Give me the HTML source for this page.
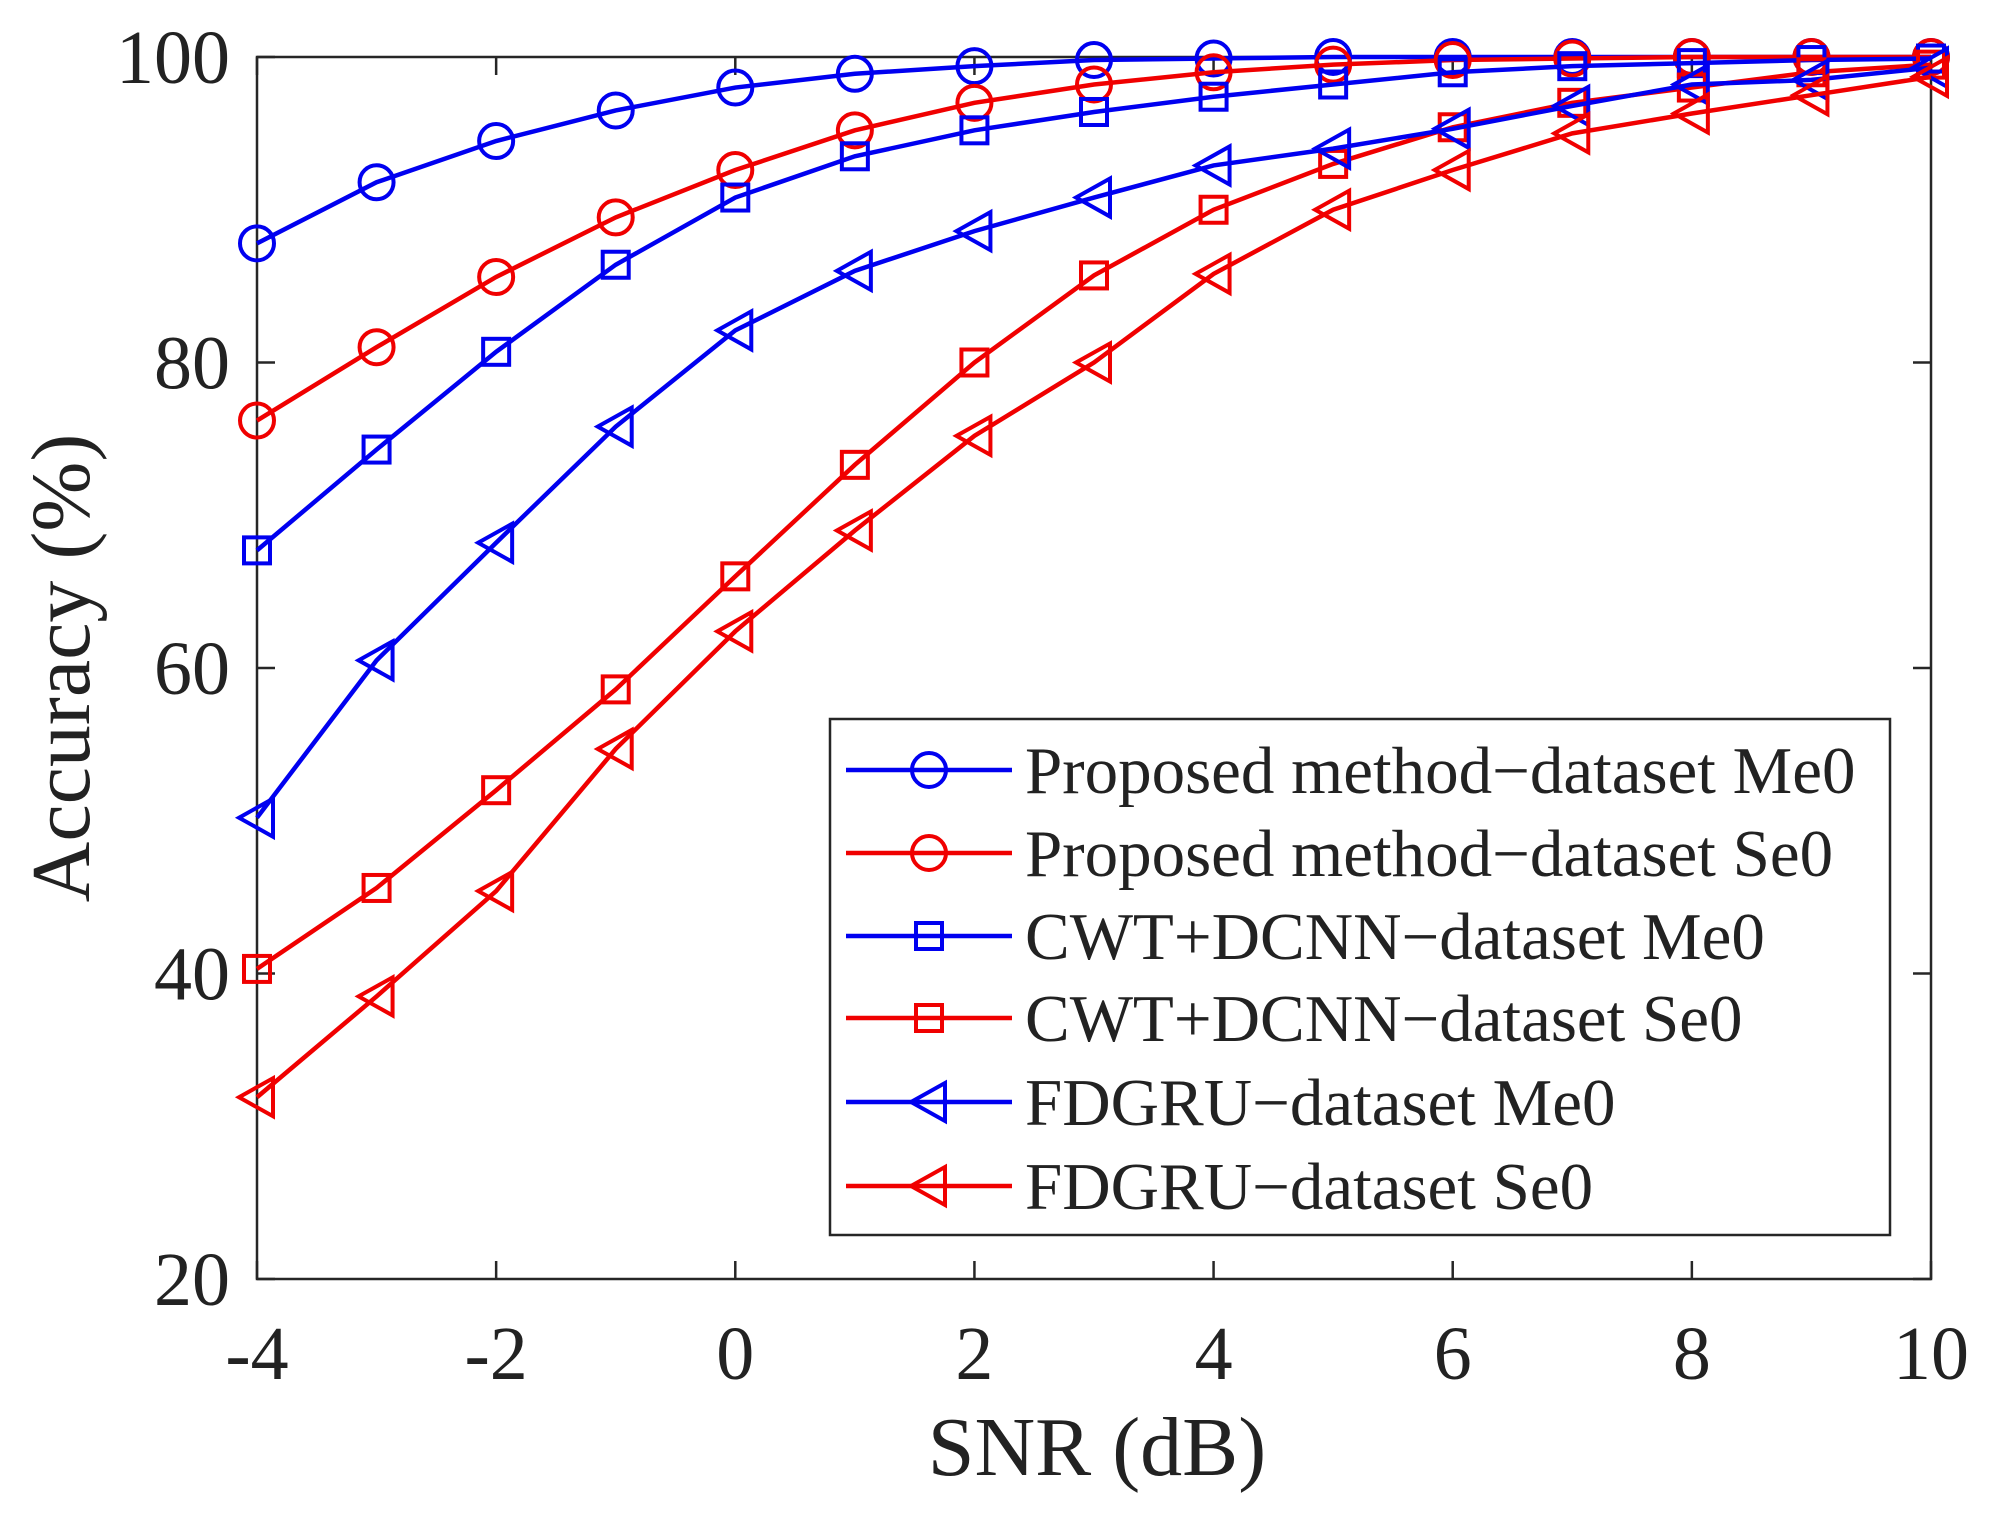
<!DOCTYPE html>
<html><head><meta charset="utf-8"><style>
html,body{margin:0;padding:0;background:#fff}
svg text{font-family:"Liberation Serif",serif;fill:#222}
</style></head><body>
<svg id="chart" width="1994" height="1518" viewBox="0 0 1994 1518" xmlns="http://www.w3.org/2000/svg">
<rect x="0" y="0" width="1994" height="1518" fill="#fff"/>
<g id="grid"></g>
<g id="series"></g>
<g id="legend"></g>
</svg>
<script>
const snr = [-4,-3,-2,-1,0,1,2,3,4,5,6,7,8,9,10];
const propMe0 = [87.8,91.8,94.5,96.5,98,98.9,99.4,99.8,99.9,100,100,100,100,100,100];
const propSe0 = [76.2,81,85.6,89.5,92.6,95.2,97,98.2,99,99.5,99.8,99.9,100,100,100];
const cwtMe0 = [67.7,74.3,80.7,86.4,90.8,93.5,95.2,96.4,97.4,98.2,99,99.4,99.6,99.8,99.9];
const cwtSe0 = [40.3,45.6,52,58.6,66,73.3,80,85.7,90,93,95.4,97,98,99,99.5];
const fdMe0 = [50.2,60.5,68.2,75.8,82.1,86,88.6,90.8,92.9,94,95.3,96.8,98.2,98.5,99.3];
const fdSe0 = [31.9,38.5,45.4,54.7,62.4,69,75.2,80,85.8,90,92.6,95,96.3,97.5,98.7];
const xTicks = [-4,-2,0,2,4,6,8,10];
const yTicks = [20,40,60,80,100];
const seriesNames = ["Proposed method\u2212dataset Me0","Proposed method\u2212dataset Se0","CWT+DCNN\u2212dataset Me0","CWT+DCNN\u2212dataset Se0","FDGRU\u2212dataset Me0","FDGRU\u2212dataset Se0"];

const L=257,R=1931,T=57,B=1279;
const sx=v=>L+(v-(-4))/(14)*(R-L);
const sy=v=>B-(v-20)/80*(B-T);
const NS="http://www.w3.org/2000/svg";
function mk(tag,attrs,parent){const e=document.createElementNS(NS,tag);for(const k in attrs)e.setAttribute(k,attrs[k]);parent.appendChild(e);return e;}
const grid=document.getElementById('grid'),sg=document.getElementById('series'),lg=document.getElementById('legend');

const box=mk('rect',{x:L,y:T,width:R-L,height:B-T,fill:'none',stroke:'#262626','stroke-width':2.5},grid);


xTicks.forEach(v=>{
  const x=sx(v);
  mk('line',{x1:x,x2:x,y1:B,y2:B-18,stroke:'#262626','stroke-width':2.5},grid);
  mk('line',{x1:x,x2:x,y1:T,y2:T+18,stroke:'#262626','stroke-width':2.5},grid);
  const t=mk('text',{x:x,y:1379,'text-anchor':'middle','font-size':76},grid);
  t.textContent=v;
  
  
});
yTicks.forEach(v=>{
  const y=sy(v);
  mk('line',{x1:L,x2:L+18,y1:y,y2:y,stroke:'#262626','stroke-width':2.5},grid);
  mk('line',{x1:R,x2:R-18,y1:y,y2:y,stroke:'#262626','stroke-width':2.5},grid);
  const t=mk('text',{x:230,y:y+26,'text-anchor':'end','font-size':76},grid);
  t.textContent=v;
  
  
});
const xl=mk('text',{x:1097,y:1475,'text-anchor':'middle','font-size':84},grid);
xl.textContent='SNR (dB)';


const yl=mk('text',{x:0,y:0,'text-anchor':'middle','font-size':84,transform:'translate(89,668) rotate(-90)'},grid);
yl.textContent='Accuracy (%)';



function marker(g,type,x,y,col){
  const a={fill:'none',stroke:col,'stroke-width':4};
  if(type==='o') mk('circle',Object.assign({cx:x,cy:y,r:17},a),g);
  else if(type==='s') mk('rect',Object.assign({x:x-13,y:y-13,width:26,height:26},a),g);
  else mk('polygon',Object.assign({points:`${x-18},${y} ${x+16},${y-19} ${x+16},${y+19}`},a),g);
}
const BLUE='#0000f0',RED='#f00000';
const all=[[propMe0,BLUE,'o'],[propSe0,RED,'o'],[cwtMe0,BLUE,'s'],[cwtSe0,RED,'s'],[fdMe0,BLUE,'t'],[fdSe0,RED,'t']];
const keys=['proposed-me0','proposed-se0','cwt-dcnn-me0','cwt-dcnn-se0','fdgru-me0','fdgru-se0'];
all.forEach((s,i)=>{
  const g=mk('g',{},sg);
  
  
  const pts=s[0].map((v,j)=>sx(snr[j])+','+sy(v)).join(' ');
  mk('polyline',{points:pts,fill:'none',stroke:s[1],'stroke-width':4.5},g);
  s[0].forEach((v,j)=>marker(g,s[2],sx(snr[j]),sy(v),s[1]));
});
const lb=mk('rect',{x:830,y:719,width:1060,height:516,fill:'#fff',stroke:'#262626','stroke-width':2.5},lg);


const ly=[770,853,936,1018,1102,1186];
all.forEach((s,i)=>{
  const g=mk('g',{},lg);
  
  
  mk('line',{x1:846,x2:1012,y1:ly[i],y2:ly[i],stroke:s[1],'stroke-width':4.5},g);
  marker(g,s[2],929,ly[i],s[1]);
  const t=mk('text',{x:1025,y:ly[i]+23,'font-size':67},g);
  t.textContent=seriesNames[i];
});
</script>
</body></html>
